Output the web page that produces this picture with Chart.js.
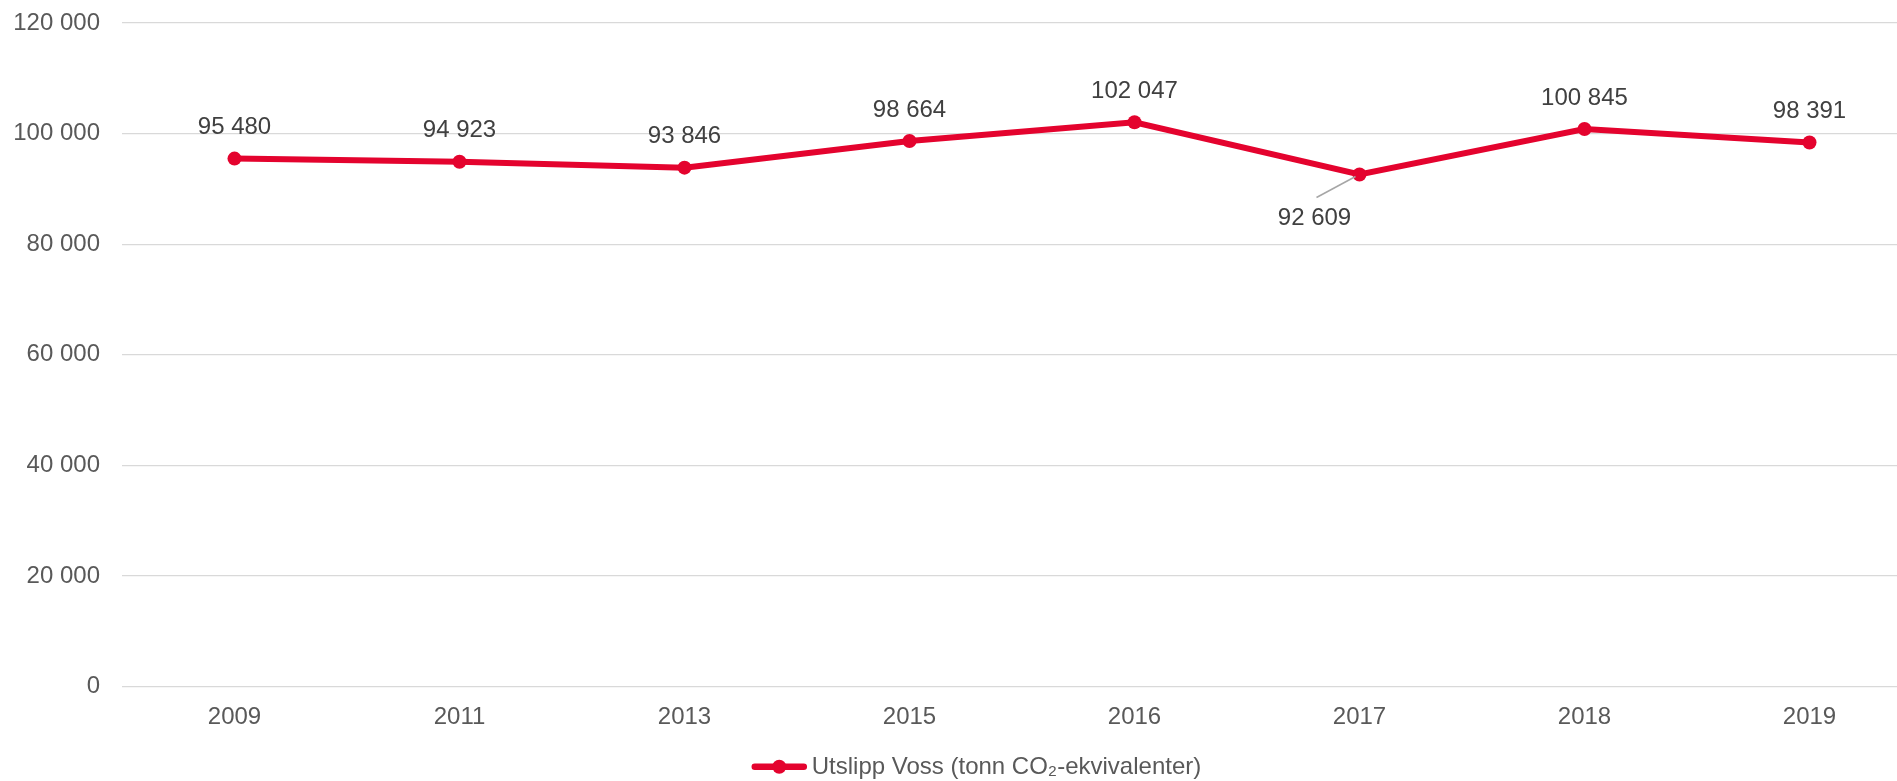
<!DOCTYPE html>
<html>
<head>
<meta charset="utf-8">
<script src="https://cdn.jsdelivr.net/npm/chart.js@4/dist/chart.umd.min.js"></script>
<style>
  html, body { margin: 0; padding: 0; background: #fff; overflow: hidden; }
  /* plot area runs past the right edge of the window, like the original */
  #wrap { width: 1929px; height: 781px; position: relative; }
</style>
</head>
<body>
<div id="wrap"><canvas id="utslippCanvas"></canvas></div>
<script>
var years = ['2009', '2011', '2013', '2015', '2016', '2017', '2018', '2019'];
var utslipp = [95480, 94923, 93846, 98664, 102047, 92609, 100845, 98391];
var labelSide = ['over', 'over', 'over', 'over', 'over', 'under', 'over', 'over'];
var yTicks = [0, 20000, 40000, 60000, 80000, 100000, 120000];
var seriesName = 'Utslipp Voss (tonn CO\u2082-ekvivalenter)';

var RED = '#e4032e';
var FONT = '"Liberation Sans", Arial, sans-serif';

function fmt(v) {
    return String(v).replace(/\B(?=(\d{3})+(?!\d))/g, ' ');
}

var dataLabels = {
    id: 'dataLabels',
    afterDatasetsDraw: function (chart) {
        var ctx = chart.ctx;
        var meta = chart.getDatasetMeta(0);
        ctx.save();
        ctx.font = '24px ' + FONT;
        ctx.fillStyle = '#404040';
        ctx.textAlign = 'center';
        ctx.textBaseline = 'middle';
        meta.data.forEach(function (pt, i) {
            var txt = fmt(utslipp[i]);
            if (labelSide[i] === 'under') {
                ctx.strokeStyle = '#a6a6a6';
                ctx.lineWidth = 1.5;
                ctx.beginPath();
                ctx.moveTo(pt.x - 4, pt.y + 2);
                ctx.lineTo(pt.x - 43, pt.y + 23);
                ctx.stroke();
                ctx.fillText(txt, pt.x - 45, pt.y + 44);
            } else {
                ctx.fillText(txt, pt.x, pt.y - 31);
            }
        });
        ctx.restore();
    }
};

// legend drawn by hand under the axis
var bottomLegend = {
    id: 'bottomLegend',
    afterDraw: function (chart) {
        var ctx = chart.ctx;
        var ds = chart.data.datasets[0];
        ctx.save();
        ctx.font = '24px ' + FONT;
        var tw = ctx.measureText(ds.label).width;
        var lineW = 55, gap = 5;
        var total = lineW + gap + tw;
        var x0 = window.innerWidth / 2 + 28 - total / 2;
        var y = chart.chartArea.bottom + 80;
        ctx.strokeStyle = ds.borderColor;
        ctx.lineWidth = 6.5;
        ctx.lineCap = 'round';
        ctx.beginPath();
        ctx.moveTo(x0 + 3, y);
        ctx.lineTo(x0 + lineW - 3, y);
        ctx.stroke();
        ctx.fillStyle = ds.borderColor;
        ctx.beginPath();
        ctx.arc(x0 + lineW / 2, y, 7, 0, Math.PI * 2);
        ctx.fill();
        ctx.fillStyle = '#595959';
        ctx.textAlign = 'left';
        ctx.textBaseline = 'middle';
        ctx.fillText(ds.label, x0 + lineW + gap, y + 1);
        ctx.restore();
    }
};

var ctx = document.getElementById('utslippCanvas');
new Chart(ctx, {
    type: 'line',
    data: {
        labels: years,
        datasets: [{
            label: seriesName,
            data: utslipp,
            borderColor: RED,
            backgroundColor: RED,
            borderWidth: 6,
            pointRadius: 7,
            pointHoverRadius: 7,
            pointBackgroundColor: RED,
            pointBorderWidth: 0,
            tension: 0,
            clip: false
        }]
    },
    options: {
        responsive: true,
        maintainAspectRatio: false,
        animation: false,
        events: [],
        layout: {
            padding: { top: 23, left: 0, right: 0, bottom: 33.5 }
        },
        plugins: {
            tooltip: { enabled: false },
            legend: { display: false }
        },
        scales: {
            x: {
                offset: true,
                grid: { display: false, drawTicks: false },
                border: { display: false },
                ticks: {
                    color: '#595959',
                    font: { family: FONT, size: 24 },
                    padding: 16,
                    maxRotation: 0
                }
            },
            y: {
                min: 0,
                max: 120000,
                afterBuildTicks: function (scale) {
                    scale.ticks = yTicks.map(function (v) { return { value: v }; });
                },
                afterFit: function (scale) {
                    scale.width = 122;
                    scale.paddingTop = 0;
                    scale.paddingBottom = 0;
                },
                grid: { color: '#d9d9d9', lineWidth: 1.3, drawTicks: false },
                border: { display: false },
                ticks: {
                    color: '#595959',
                    font: { family: FONT, size: 24 },
                    padding: 22,
                    callback: function (v) { return fmt(v); }
                }
            }
        }
    },
    plugins: [dataLabels, bottomLegend]
});
</script>
</body>
</html>
